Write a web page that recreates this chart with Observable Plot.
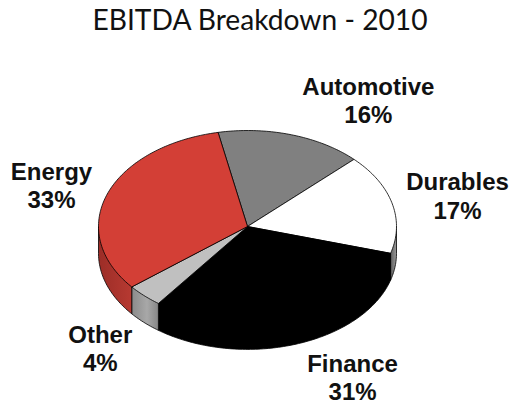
<!DOCTYPE html>
<html>
<head>
<meta charset="utf-8">
<script src="https://cdn.jsdelivr.net/npm/d3@7"></script>
<script src="https://cdn.jsdelivr.net/npm/@observablehq/plot@0.6"></script>
<style>
  html, body { margin: 0; padding: 0; background: #fff; width: 510px; height: 404px; overflow: hidden; }
  h1 { margin: 0; height: 46px; width: 510px; text-align: center; font: 400 28.2px/38px Lato, sans-serif; color: #111; padding-left: 10px; box-sizing: border-box; }
  svg { display: block; }
</style>
</head>
<body>
<h1>EBITDA Breakdown - 2010</h1>
<div id="chart"></div>
<script>
const categories = ["Automotive", "Durables", "Finance", "Other", "Energy"];
const shares = [16, 17, 31, 4, 33];
const topColors = ["#808080", "#ffffff", "#000000", "#c0c0c0", "#d33f36"];
const sideFills = ["#808080", "url(#sideDurables)", "#000000", "url(#sideOther)", "url(#sideEnergy)"];
const labelDx = [77, 65.5, 57.7, -44, -55.8];
const labelDy = [-12, 15.4, 82.5, 75, 14.5];

const startAngle = -101.4, depth = 0.28, titleHeight = 46;
const total = d3.sum(shares);
let cursor = startAngle;
const slices = categories.map((name, i) => {
  const a0 = cursor;
  const a1 = cursor + shares[i] / total * 360;
  cursor = a1;
  return {name, share: shares[i], a0, a1, mid: (a0 + a1) / 2, top: topColors[i], side: sideFills[i], dx: labelDx[i], dy: labelDy[i]};
});
const rad = (a) => a * Math.PI / 180;
const arc = (a0, a1, off = 0) => d3.range(Math.ceil(Math.abs(a1 - a0)) + 1).map((k, _, r) => {
  const a = a0 + (a1 - a0) * k / (r.length - 1);
  return {x: Math.cos(rad(a)), y: Math.sin(rad(a)) + off};
});
const topPath = (s) => [{x: 0, y: 0}, ...arc(s.a0, s.a1), {x: 0, y: 0}];
// The wall runs back to the centre so that it lies under the top face and no seam shows.
const sidePath = (s) => {
  const a0 = Math.max(s.a0, 0), a1 = Math.min(s.a1, 180);
  if (a1 <= a0) return null;
  const ends = arc(a0, a1);
  return [{x: 0, y: 0}, ends[0], ...arc(a0, a1, depth), ends[ends.length - 1], {x: 0, y: 0}];
};

const gradient = (id, x1, x2, stops) => `<linearGradient id="${id}" gradientUnits="userSpaceOnUse" x1="${x1}" x2="${x2}" y1="0" y2="0">` +
  stops.map(([o, c]) => `<stop offset="${o}" stop-color="${c}"/>`).join("") + `</linearGradient>`;
const defs = () => {
  const g = document.createElementNS("http://www.w3.org/2000/svg", "g");
  g.innerHTML = "<defs>" +
    gradient("sideEnergy", 98, 133, [[0, "#9c2d27"], [1, "#b83a32"]]) +
    gradient("sideOther", 133, 160, [[0, "#8e8e8e"], [0.5, "#a8a8a8"], [1, "#808080"]]) +
    gradient("sideDurables", 390, 396, [[0, "#5e5e5e"], [1, "#9a9a9a"]]) + "</defs>";
  return g;
};

const edge = {x: "x", y: "y", stroke: "#000", strokeWidth: 0.8};
const chart = Plot.plot({
  width: 510,
  height: 404 - titleHeight,
  margin: 0,
  x: {domain: [-1, 1], range: [98, 396], axis: null},
  y: {domain: [-1, 1], range: [130 - titleHeight, 322 - titleHeight], axis: null},
  marks: [
    defs,
    ...slices.map(sidePath).map((p, i) => p && Plot.line(p, {...edge, fill: slices[i].side})).filter(Boolean),
    ...slices.map((s) => Plot.line(topPath(s), {...edge, fill: s.top})),
    ...slices.map((s) => Plot.text([s], {
      x: (d) => Math.cos(rad(d.mid)),
      y: (d) => Math.sin(rad(d.mid)),
      text: (d) => `${d.name}\n${d.share}%`,
      dx: s.dx,
      dy: s.dy,
      lineAnchor: "bottom",
      lineHeight: 1.17,
      textAnchor: "middle",
      fontFamily: "Liberation Sans",
      fontWeight: "bold",
      fontSize: 24,
      fill: "#111"
    }))
  ]
});
document.getElementById("chart").append(chart);
</script>
</body>
</html>
